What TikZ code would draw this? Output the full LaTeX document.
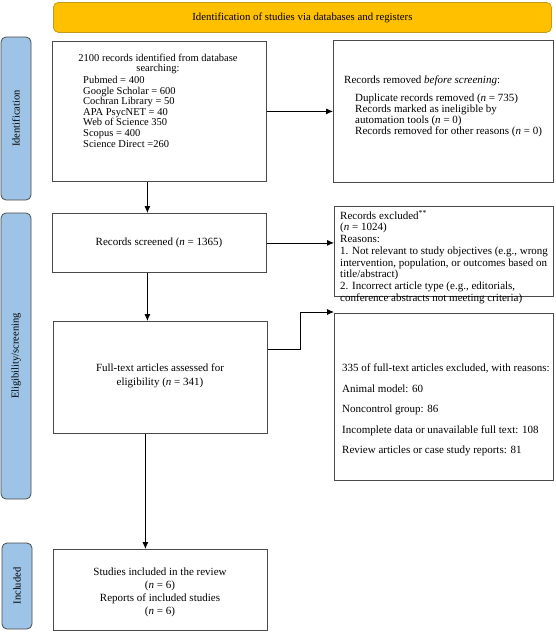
\documentclass[tikz,border=0pt]{standalone}
\usepackage{fontspec}
\setmainfont{Liberation Serif}
\usetikzlibrary{arrows.meta}
\definecolor{bannerfill}{HTML}{FFC000}
\definecolor{bannerdraw}{HTML}{C49A1A}
\definecolor{barfill}{HTML}{9DC3E6}
\definecolor{bardraw}{HTML}{4A4A4A}
\definecolor{boxdraw}{HTML}{4A4A4A}
\begin{document}
\begin{tikzpicture}[x=1pt,y=-1pt,
  box/.style={draw=boxdraw, line width=0.8pt, inner sep=0pt, anchor=north west},
  bar/.style={draw=bardraw, fill=barfill, rounded corners=5pt, line width=0.8pt, inner sep=0pt, rotate=90, font=\fontsize{10.5}{12}\selectfont},
  txt/.style={inner sep=0pt, font=\fontsize{11}{11}\selectfont},
  arr/.style={-{Latex[length=7pt,width=6pt]}, line width=0.8pt, draw=black}]
\useasboundingbox (0,0) rectangle (555,632);
% banner
\node[draw=bannerdraw, fill=bannerfill, rounded corners=5pt, line width=0.8pt, anchor=north west,
  minimum width=498pt, minimum height=30pt, inner sep=0pt, font=\fontsize{10.8}{12}\selectfont]
  (banner) at (53,2) {Identification of studies via databases and registers};
% side bars
\node[bar, minimum width=163pt, minimum height=30pt] (idbar) at (16,118.5) {Identification};
\node[bar, minimum width=286pt, minimum height=30pt] (elbar) at (16,356) {Eligibility/screening};
\node[bar, minimum width=86pt, minimum height=30pt] (inbar) at (17,586) {Included};
% boxes
\node[box, minimum width=214pt, minimum height=140pt] (b1) at (52,41) {};
\node[box, minimum width=220pt, minimum height=142pt] (rem) at (333,40) {};
\node[box, minimum width=214pt, minimum height=59pt] (scr) at (52,213) {};
\node[box, minimum width=219pt, minimum height=90pt] (exc) at (334,206) {};
\node[box, minimum width=214pt, minimum height=112pt] (ft) at (53,321) {};
\node[box, minimum width=219pt, minimum height=167pt] (exc2) at (334,313) {};
\node[box, minimum width=214pt, minimum height=81pt] (inc) at (53,549) {};
% texts
\node[txt, align=center, anchor=north, font=\fontsize{10.5}{10.4}\selectfont] (b1head) at (158,54) {2100 records identified from database\\searching:};
\node[txt, align=left, anchor=north west, font=\fontsize{10.5}{10.6}\selectfont] (b1list) at (83,76) {Pubmed = 400\\Google Scholar = 600\\Cochran Library = 50\\APA PsycNET = 40\\Web of Science 350\\Scopus = 400\\Science Direct =260};
\node[txt, align=left, anchor=north west] (remhead) at (344,76) {Records removed \textit{before screening}:};
\node[txt, align=left, anchor=north west] (remlist) at (355,94) {Duplicate records removed (\textit{n} = 735)\\Records marked as ineligible by\\automation tools (\textit{n} = 0)\\Records removed for other reasons (\textit{n} = 0)};
\node[txt] (scrt) at (159,242.5) {Records screened (\textit{n} = 1365)};
\node[txt, align=left, anchor=north west, font=\fontsize{11}{11.7}\selectfont] (exct) at (340,210) {Records excluded\textsuperscript{**}\\(\textit{n} = 1024)\\Reasons:\\1. Not relevant to study objectives (e.g., wrong\\intervention, population, or outcomes based on\\title/abstract)\\2. Incorrect article type (e.g., editorials,\\conference abstracts not meeting criteria)};
\node[txt, align=center, font=\fontsize{11}{14}\selectfont] (ftt) at (160,376) {Full-text articles assessed for\\eligibility (\textit{n} = 341)};
\node[txt, align=left, anchor=north west, font=\fontsize{11}{20.5}\selectfont] (exc2t) at (342,364) {335 of full-text articles excluded, with reasons:\\Animal model: 60\\Noncontrol group: 86\\Incomplete data or unavailable full text: 108\\Review articles or case study reports: 81};
\node[txt, align=center, font=\fontsize{11}{13}\selectfont] (inct) at (160,592) {Studies included in the review\\(\textit{n} = 6)\\Reports of included studies\\(\textit{n} = 6)};
% connectors
\draw[arr] ([xshift=-12pt]b1.south) -- ([xshift=-12pt]b1.south |- scr.north);
\draw[arr] ([xshift=-13pt]ft.north |- scr.south) -- ([xshift=-13pt]ft.north);
\draw[arr] ([xshift=-15pt]ft.south) -- ([xshift=-15pt]inc.north);
\draw[arr] (b1.east) -- (b1.east -| rem.west);
\draw[arr] (scr.east) -- (scr.east -| exc.west);
\coordinate (bend1) at (300,349);
\coordinate (bend2) at (300,312);
\draw[arr] (ft.east |- bend1) -- (bend1) -- (bend2) -- (bend2 -| exc2.west);
\end{tikzpicture}
\end{document}
